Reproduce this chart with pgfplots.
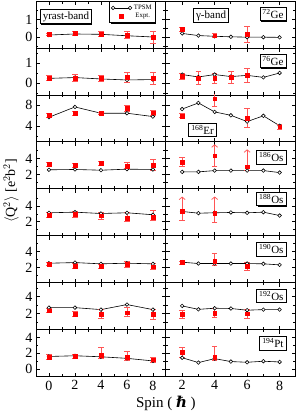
\documentclass[border=0pt]{standalone}
\usepackage{fontspec}
\setmainfont{Liberation Serif}
\newfontfamily\dvs{DejaVu Serif}
\usepackage{pgfplots}
\pgfplotsset{compat=1.18}
\usepgfplotslibrary{groupplots}
\usetikzlibrary{calc,shadows,arrows.meta}
\definecolor{errc}{RGB}{255,85,85}
\pgfplotsset{
 tpsm/.style={black, line width=0.6pt, mark=*, mark size=1.8pt, mark options={solid, fill=white, draw=black, line width=0.6pt}, legend image code/.code={\draw[##1] plot coordinates {(0pt,0pt) (17pt,0pt)};}},
 expt/.style={only marks, mark=square*, mark size=1.9pt, red, error bars/y dir=both, error bars/y explicit, error bars/error bar style={errc, line width=0.75pt}, error bars/error mark options={rotate=90, errc, mark size=2.8pt, line width=0.75pt}},
 arr/.style={errc, line width=0.75pt, -{Straight Barb[length=2.5pt,width=6pt]}, quiver={u=0,v=\thisrow{v}}},
 L/.style={xmin=-1,xmax=9,xtick={0,2,4,6,8},minor xtick={1,3,5,7}},
 R/.style={xmin=1,xmax=9,xtick={2,4,6,8},minor xtick={3,5,7}},
 ra/.style={ymin=-0.6,ymax=2.05,ytick={0,1},minor ytick={-0.5,0.5,1.5}},
 rb/.style={ymin=-0.6,ymax=1.75,ytick={0,1},minor ytick={-0.5,0.5,1.5}},
 rc/.style={ymin=1,ymax=10,ytick={4,8},minor ytick={2,6}},
 rd/.style={ymin=0.2,ymax=6.1,ytick={2,4},minor ytick={1,3,5}},
 re/.style={ymin=0.2,ymax=6.2,ytick={2,4},minor ytick={1,3,5}},
 rf/.style={ymin=0.05,ymax=6,ytick={2,4},minor ytick={1,3,5}},
 rg/.style={ymin=0.1,ymax=5.6,ytick={2,4},minor ytick={1,3,5}},
 rh/.style={ymin=-1,ymax=5,ytick={0,2,4},minor ytick={1,3}},
}
\tikzset{bx/.style={draw, line width=0.8pt, fill=white, inner xsep=2.5pt, inner ysep=2pt, font=\fontsize{11}{12}\selectfont, drop shadow={shadow xshift=0.8pt, shadow yshift=-0.8pt, opacity=1, fill=black}}}
\begin{document}
\begin{tikzpicture}
\begin{groupplot}[
 group style={group size=2 by 8, horizontal sep=0pt, vertical sep=0pt, xticklabels at=edge bottom, yticklabels at=edge left},
 width=130pt, height=47pt, scale only axis,
 axis line style={line width=0.9pt},
 tick align=inside, major tick length=4pt, minor tick length=2.5pt,
 every tick/.style={black, line width=0.8pt},
 tick label style={font=\fontsize{14}{15}\selectfont},
 xticklabel style={inner sep=1pt, yshift=-2.7pt},
 /pgf/number format/assume math mode=true,
]
% ---------- row 1: 72Ge
\nextgroupplot[L, ra, legend style={at={(0.92,1.0)}, anchor=north east, draw, line width=0.8pt, font=\fontsize{6.8}{7.5}\selectfont, inner sep=1.5pt, row sep=-1.5pt, drop shadow={shadow xshift=0.8pt, shadow yshift=-0.8pt, opacity=1, fill=black}, fill=white}]
\addplot[tpsm] coordinates {(0,0.13) (2,0.19) (4,0.17) (6,0.09) (8,0.02)};
\addlegendentry{TPSM}
\addplot[expt] coordinates {(0,0.17) +- (0,0.08) (2,0.23) +- (0,0.13) (4,0.19) +- (0,0.12) (6,0.13) +- (0,0.2) (8,0.02) +- (0,0.34)};
\addlegendentry{Expt.}
\node[bx, anchor=north west] at (rel axis cs:0.03,0.82) {yrast-band};
\nextgroupplot[R, ra]
\addplot[tpsm] coordinates {(2,0.22) (3,0.1) (4,0.06) (5,0.03) (6,0.01) (7,0.01) (8,0.0)};
\addplot[expt] coordinates {(2,0.45) +- (0,0.11) (4,0.09) +- (0,0.11) (6,0.17) +- (0,0.43)};
\node[bx, anchor=north west] at (rel axis cs:0.21,0.845) {γ-band};
\node[bx, anchor=north east] at (rel axis cs:0.927,0.866) {\textsuperscript{72}Ge};
% ---------- row 2: 76Ge
\nextgroupplot[L, rb]
\addplot[tpsm] coordinates {(0,0.23) (2,0.27) (4,0.2) (6,0.15) (8,0.17)};
\addplot[expt] coordinates {(0,0.25) +- (0,0.14) (2,0.25) +- (0,0.18) (4,0.23) +- (0,0.17) (6,0.28) +- (0,0.25) (8,0.23) +- (0,0.3)};
\nextgroupplot[R, rb]
\addplot[tpsm] coordinates {(2,0.42) (3,0.3) (4,0.42) (5,0.32) (6,0.38) (7,0.28) (8,0.5)};
\addplot[expt] coordinates {(2,0.32) +- (0,0.15) (3,0.25) +- (0,0.32) (4,0.25) +- (0,0.25) (5,0.28) +- (0,0.3) (6,0.37) +- (0,0.35)};
\node[bx, anchor=north east] at (rel axis cs:0.927,0.866) {\textsuperscript{76}Ge};
% ---------- row 3: 168Er
\nextgroupplot[L, rc]
\addplot[tpsm] coordinates {(0,5.73) (2,7.7) (4,6.5) (6,6.5) (8,5.86)};
\addplot[expt] coordinates {(0,6.1) +- (0,0.45) (2,6.5) +- (0,0.35) (4,6.5) +- (0,0.25) (6,7.4) +- (0,0.55) (8,6.6) +- (0,0.5)};
\nextgroupplot[R, rc]
\addplot[tpsm] coordinates {(2,7.3) (3,8.47) (4,6.75) (5,6.1) (6,4.9) (7,6.0) (8,4.1)};
\addplot[expt] coordinates {(2,6.0) +- (0,0.38) (4,9.3) +- (0,1.5) (6,5.6) +- (0,1.8) (8,3.9) +- (0,0.55)};
\node[bx, anchor=south west] at (rel axis cs:0.173,0.107) {\textsuperscript{168}Er};
% ---------- row 4: 186Os
\nextgroupplot[L, rd]
\addplot[tpsm] coordinates {(0,2.6) (2,2.64) (4,2.55) (6,2.68) (8,2.64)};
\addplot[expt] coordinates {(0,3.3) +- (0,0.25) (2,3.2) +- (0,0.25) (4,3.4) +- (0,0.28) (6,3.1) +- (0,0.38) (8,3.2) +- (0,0.65)};
\nextgroupplot[R, rd]
\addplot[tpsm] coordinates {(2,2.34) (3,2.34) (4,2.5) (5,2.5) (6,2.5) (7,2.5) (8,2.25)};
\addplot[expt] coordinates {(2,3.6) +- (0,0.53)};
\addplot[arr] table[row sep=\\] {x y v\\ 4 4.38 1.42\\ 6 3.0 2.17\\};
\addplot[expt, error bars/y dir=minus] coordinates {(4,4.38) +- (0,1.32) (6,3.0) +- (0,0.5)};
\node[bx, anchor=north east] at (rel axis cs:0.927,0.82) {\textsuperscript{186}Os};
% ---------- row 5: 188Os
\nextgroupplot[L, re]
\addplot[tpsm] coordinates {(0,3.15) (2,3.23) (4,3.06) (6,3.15) (8,2.9)};
\addplot[expt] coordinates {(0,2.88) +- (0,0.28) (2,2.94) +- (0,0.35) (4,2.78) +- (0,0.42) (6,2.5) += (0,0.72) -= (0,0.4) (8,2.6) += (0,0.85) -= (0,0.42)};
\nextgroupplot[R, re]
\addplot[tpsm] coordinates {(2,3.32) (3,3.1) (4,3.15) (5,3.19) (6,3.15) (7,3.23) (8,2.8)};
\addplot[arr] table[row sep=\\] {x y v\\ 2 3.32 1.9\\ 4 3.06 2.17\\};
\addplot[expt, error bars/y dir=minus] coordinates {(2,3.32) +- (0,1.15) (4,3.06) +- (0,1.1)};
\node[bx, anchor=north east] at (rel axis cs:0.927,0.93) {\textsuperscript{188}Os};
% ---------- row 6: 190Os
\nextgroupplot[L, rf]
\addplot[tpsm] coordinates {(0,2.54) (2,2.62) (4,2.46) (6,2.54) (8,2.46)};
\addplot[expt] coordinates {(0,2.46) +- (0,0.2) (2,2.17) +- (0,0.3) (4,2.12) +- (0,0.28) (6,2.37) +- (0,0.35) (8,2.1) +- (0,0.37)};
\nextgroupplot[R, rf]
\addplot[tpsm] coordinates {(2,2.67) (3,2.5) (4,2.5) (5,2.5) (6,2.5) (7,2.46) (8,2.33)};
\addplot[expt] coordinates {(2,2.62) +- (0,0.2) (4,2.83) += (0,1.0) -= (0,0.54) (6,2.12) +- (0,0.48)};
\node[bx, anchor=north east] at (rel axis cs:0.927,0.86) {\textsuperscript{190}Os};
% ---------- row 7: 192Os
\nextgroupplot[L, rg]
\addplot[tpsm] coordinates {(0,2.7) (2,2.7) (4,2.47) (6,3.06) (8,2.47)};
\addplot[expt] coordinates {(0,2.35) +- (0,0.24) (2,1.92) +- (0,0.3) (4,1.96) +- (0,0.5) (6,2.1) += (0,0.6) -= (0,0.4) (8,1.92) +- (0,0.57)};
\nextgroupplot[R, rg]
\addplot[tpsm] coordinates {(2,2.9) (3,2.5) (4,2.63) (5,2.6) (6,2.4) (7,2.47) (8,2.47)};
\addplot[expt] coordinates {(2,1.92) +- (0,0.47) (4,2.08) +- (0,0.57) (6,2.0) +- (0,0.55)};
\node[bx, anchor=north east] at (rel axis cs:0.927,0.87) {\textsuperscript{192}Os};
% ---------- row 8: 194Pt
\nextgroupplot[L, rh]
\addplot[tpsm] coordinates {(0,1.6) (2,1.69) (4,1.56) (6,1.36) (8,1.03)};
\addplot[expt] coordinates {(0,1.52) +- (0,0.29) (2,1.65) +- (0,0.27) (4,1.73) += (0,1.03) -= (0,0.37) (6,1.48) += (0,0.78) -= (0,0.41) (8,1.2) +- (0,0.33)};
\nextgroupplot[R, rh]
\addplot[tpsm] coordinates {(2,1.44) (3,0.82) (4,1.32) (5,0.95) (6,0.86) (7,0.99) (8,0.9)};
\addplot[expt] coordinates {(2,2.14) +- (0,0.66) (4,1.48) += (0,1.44) -= (0,0.4)};
\node[bx, anchor=north east] at (rel axis cs:0.927,0.86) {\textsuperscript{194}Pt};
\end{groupplot}
\node[rotate=90, font=\fontsize{14}{16}\selectfont] at ($(group c1r4.south west)+(-25pt,-2pt)$) {$\langle$Q$^{2}\rangle$ [e$^{2}$b$^{2}$]};
\node[anchor=base, inner sep=0.5pt, font=\fontsize{15}{17}\selectfont] at ($(group c1r8.south east)+(0pt,-30.5pt)$) {Spin ( {\dvs\bfseries\itshape ℏ} )};
\path ($(group c1r1.north west)+(-36pt,1pt)$) rectangle ($(group c2r8.south east)+(3pt,-34pt)$);
\end{tikzpicture}
\end{document}
